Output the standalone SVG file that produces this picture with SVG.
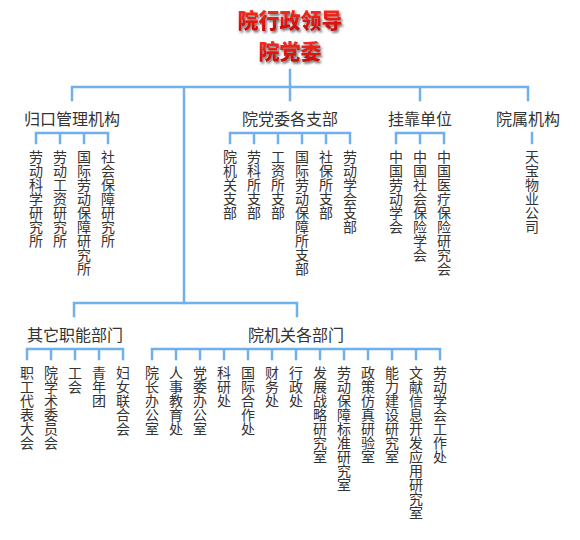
<svg xmlns="http://www.w3.org/2000/svg" width="580" height="540" viewBox="0 0 580 540">
<style>
.bg{fill:#ffffff}
.ln{stroke:#70B0EC;stroke-width:2.5;fill:none;stroke-linecap:square}
.lbl{font-family:"Noto Sans CJK SC","Noto Sans",sans-serif;font-size:16px;fill:#333333;text-anchor:middle;dominant-baseline:central}
.v{font-family:"Noto Sans CJK SC","Noto Sans",sans-serif;font-size:14px;fill:#333333;writing-mode:vertical-rl;text-anchor:start}
.ttl{font-family:"Noto Sans CJK SC","Noto Sans",sans-serif;font-size:21px;font-weight:900;fill:url(#red);text-anchor:middle;dominant-baseline:central;filter:url(#sh)}
</style>
<defs>
<linearGradient id="red" x1="0" y1="0" x2="0" y2="1">
<stop offset="0" stop-color="#ff3b2a"/>
<stop offset="1" stop-color="#c40000"/>
</linearGradient>
<filter id="sh" x="-20%" y="-40%" width="140%" height="180%">
<feDropShadow dx="1.5" dy="2" stdDeviation="0.8" flood-color="#555555" flood-opacity="0.8"/>
</filter>
</defs>
<rect class="bg" x="0" y="0" width="580" height="540"/>

<g id="connectors">
<path class="ln" d="M72 87H528M290 70V100M72 87V100M184 87V303M420 87V100M528 87V100"/>
<path class="ln" d="M36 133H108M36 133V143M60 133V143M84 133V143M108 133V143"/>
<path class="ln" d="M230 133H350M230 133V143M254 133V143M278 133V143M302 133V143M326 133V143M350 133V143"/>
<path class="ln" d="M396 133H444M396 133V143M420 133V143M444 133V143"/>
<path class="ln" d="M532 133V143"/>
<path class="ln" d="M74 303H297M74 303V316M297 303V316"/>
<path class="ln" d="M27 349H123M27 349V359M51 349V359M75 349V359M99 349V359M123 349V359"/>
<path class="ln" d="M152 349H440M152 349V359M176 349V359M200 349V359M224 349V359M248 349V359M272 349V359M296 349V359M320 349V359M344 349V359M368 349V359M392 349V359M416 349V359M440 349V359"/>
</g>

<g id="root">
<text class="ttl" x="290" y="19">院行政领导</text>
<text class="ttl" x="290" y="50">院党委</text>
</g>

<g id="guikou">
<text class="lbl" x="72" y="118">归口管理机构</text>
<text class="v" x="36" y="150">劳动科学研究所</text>
<text class="v" x="60" y="150">劳动工资研究所</text>
<text class="v" x="84" y="150">国际劳动保障研究所</text>
<text class="v" x="108" y="150">社会保障研究所</text>
</g>

<g id="dangwei-zhibu">
<text class="lbl" x="290" y="118">院党委各支部</text>
<text class="v" x="230" y="150">院机关支部</text>
<text class="v" x="254" y="150">劳科所支部</text>
<text class="v" x="278" y="150">工资所支部</text>
<text class="v" x="302" y="150">国际劳动保障所支部</text>
<text class="v" x="326" y="150">社保所支部</text>
<text class="v" x="350" y="150">劳动学会支部</text>
</g>

<g id="guakao">
<text class="lbl" x="420" y="118">挂靠单位</text>
<text class="v" x="396" y="150">中国劳动学会</text>
<text class="v" x="420" y="150">中国社会保险学会</text>
<text class="v" x="444" y="150">中国医疗保险研究会</text>
</g>

<g id="yuanshu">
<text class="lbl" x="528" y="118">院属机构</text>
<text class="v" x="532" y="150">天宝物业公司</text>
</g>

<g id="qita">
<text class="lbl" x="75" y="334">其它职能部门</text>
<text class="v" x="27" y="366">职工代表大会</text>
<text class="v" x="51" y="366">院学术委员会</text>
<text class="v" x="75" y="366">工会</text>
<text class="v" x="99" y="366">青年团</text>
<text class="v" x="123" y="366">妇女联合会</text>
</g>

<g id="jiguan">
<text class="lbl" x="296" y="334">院机关各部门</text>
<text class="v" x="152" y="366">院长办公室</text>
<text class="v" x="176" y="366">人事教育处</text>
<text class="v" x="200" y="366">党委办公室</text>
<text class="v" x="224" y="366">科研处</text>
<text class="v" x="248" y="366">国际合作处</text>
<text class="v" x="272" y="366">财务处</text>
<text class="v" x="296" y="366">行政处</text>
<text class="v" x="320" y="366">发展战略研究室</text>
<text class="v" x="344" y="366">劳动保障标准研究室</text>
<text class="v" x="368" y="366">政策仿真研验室</text>
<text class="v" x="392" y="366">能力建设研究室</text>
<text class="v" x="416" y="366">文献信息开发应用研究室</text>
<text class="v" x="440" y="366">劳动学会工作处</text>
</g>
</svg>
